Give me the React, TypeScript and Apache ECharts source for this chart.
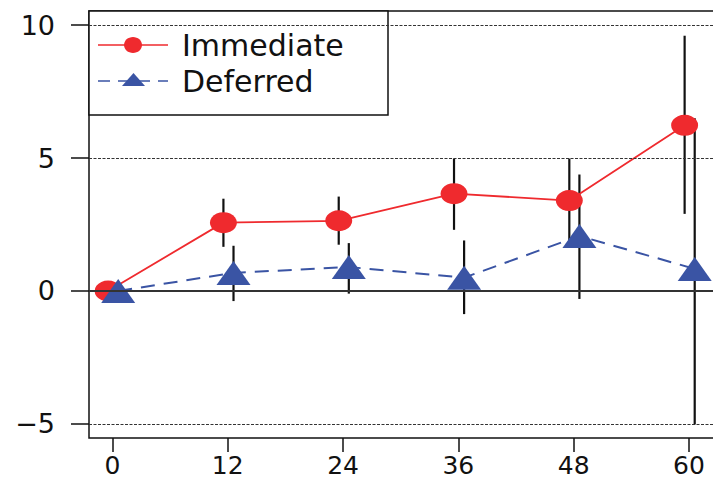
import React, { useEffect, useRef } from "react";
import * as echarts from "echarts";

const months = [0, 12, 24, 36, 48, 60];
const yTicks = [-5, 0, 5, 10];
const gridValues = [10, 5, -5];

const immediateMean = [0, 2.57, 2.64, 3.66, 3.4, 6.23];
const immediateLower = [0, 1.66, 1.74, 2.3, 1.9, 2.9];
const immediateUpper = [0, 3.47, 3.55, 4.98, 4.98, 9.6];

const deferredMean = [0, 0.68, 0.9, 0.5, 2.07, 0.83];
const deferredLower = [0, -0.38, -0.1, -0.87, -0.3, -5.02];
const deferredUpper = [0, 1.7, 1.8, 1.9, 4.38, 6.5];

const immediateOffset = -0.45;
const deferredOffset = 0.6;

const RED = "#ef2a2e";
const BLUE = "#3a54a4";
const FONT = "DejaVu Sans";

export default function App() {
  const ref = useRef<HTMLDivElement>(null);

  useEffect(() => {
    if (!ref.current) return;
    const chart = echarts.init(ref.current, undefined, { renderer: "svg" });

    const immPts = months.map((m, i) => [m + immediateOffset, immediateMean[i]]);
    const defPts = months.map((m, i) => [m + deferredOffset, deferredMean[i]]);
    const immBars = months
      .map((m, i) => [m + immediateOffset, immediateLower[i], immediateUpper[i]])
      .filter((d) => d[1] !== d[2]);
    const defBars = months
      .map((m, i) => [m + deferredOffset, deferredLower[i], deferredUpper[i]])
      .filter((d) => d[1] !== d[2]);

    const renderBar = (params: any, api: any) => {
      const x = api.value(0);
      const p1 = api.coord([x, api.value(1)]);
      const p2 = api.coord([x, api.value(2)]);
      return {
        type: "line",
        shape: { x1: p1[0], y1: p1[1], x2: p2[0], y2: p2[1] },
        style: { stroke: "#111", lineWidth: 2.2 },
      };
    };

    chart.setOption({
      animation: false,
      backgroundColor: "#ffffff",
      grid: {
        left: 89,
        top: 11,
        bottom: 44,
        right: 18,
        show: true,
        borderColor: "#111",
        borderWidth: 1.5,
        backgroundColor: "transparent",
      },
      xAxis: {
        type: "value",
        min: -2.44,
        max: 63.44,
        axisLine: { show: false, onZero: false },
        splitLine: { show: false },
        axisTick: {
          show: true,
          inside: false,
          length: 14,
          customValues: months,
          lineStyle: { color: "#111", width: 1.5 },
        },
        axisLabel: {
          customValues: months,
          margin: 17,
          fontFamily: FONT,
          fontSize: 25,
          lineHeight: 20,
          color: "#111",
        },
      },
      yAxis: {
        type: "value",
        min: -5.53,
        max: 10.53,
        axisLine: { show: false, onZero: false },
        splitLine: { show: false },
        axisTick: {
          show: true,
          inside: false,
          length: 18,
          customValues: yTicks,
          lineStyle: { color: "#111", width: 1.5 },
        },
        axisLabel: {
          customValues: yTicks,
          margin: 34,
          fontFamily: FONT,
          fontSize: 27,
          color: "#111",
          formatter: (v: number) => (v < 0 ? "\u2212" + Math.abs(v) : String(v)),
        },
      },
      series: [
        {
          type: "line",
          data: [],
          z: 1,
          silent: true,
          markLine: {
            silent: true,
            symbol: "none",
            label: { show: false },
            data: [
              ...gridValues.map((v) => ({
                yAxis: v,
                lineStyle: { color: "#333", width: 1, type: [3, 1.5] },
              })),
              { yAxis: 0, lineStyle: { color: "#333", width: 2, type: "solid" } },
            ],
          },
        },
        {
          type: "custom",
          renderItem: renderBar,
          data: immBars,
          encode: { x: 0, y: [1, 2] },
          z: 2,
          silent: true,
        },
        {
          type: "custom",
          renderItem: renderBar,
          data: defBars,
          encode: { x: 0, y: [1, 2] },
          z: 2,
          silent: true,
        },
        {
          name: "Immediate",
          type: "line",
          data: immPts,
          z: 3,
          symbol: "circle",
          symbolSize: [27, 21],
          itemStyle: { color: RED },
          lineStyle: { color: RED, width: 1.8 },
        },
        {
          name: "Deferred",
          type: "line",
          data: defPts,
          z: 4,
          symbol: "triangle",
          symbolSize: [34, 24],
          itemStyle: { color: BLUE },
          lineStyle: { color: BLUE, width: 2, type: [14, 9] },
        },
      ],
      graphic: [
        {
          type: "group",
          z: 100,
          children: [
            {
              type: "rect",
              shape: { x: 89, y: 11, width: 299, height: 104 },
              style: { fill: "#fff", stroke: "#111", lineWidth: 1.5 },
            },
            {
              type: "line",
              shape: { x1: 98, y1: 45, x2: 168, y2: 45 },
              style: { stroke: RED, lineWidth: 1.5 },
            },
            {
              type: "ellipse",
              shape: { cx: 133, cy: 45, rx: 9, ry: 8 },
              style: { fill: RED },
            },
            {
              type: "line",
              shape: { x1: 98, y1: 81, x2: 168, y2: 81 },
              style: { stroke: BLUE, lineWidth: 1.5, lineDash: [12, 8] },
            },
            {
              type: "polygon",
              shape: { points: [[122, 86], [145, 86], [133.5, 73]] },
              style: { fill: BLUE },
            },
            {
              type: "text",
              x: 182,
              y: 45,
              style: {
                text: "Immediate",
                font: `30px "${FONT}"`,
                fill: "#111",
                textVerticalAlign: "middle",
                verticalAlign: "middle",
              },
            },
            {
              type: "text",
              x: 182,
              y: 81,
              style: {
                text: "Deferred",
                font: `30px "${FONT}"`,
                fill: "#111",
                textVerticalAlign: "middle",
                verticalAlign: "middle",
              },
            },
          ],
        },
      ],
    });

    return () => chart.dispose();
  }, []);

  return (
    <div
      style={{
        position: "absolute",
        left: 0,
        top: 0,
        width: 713,
        height: 482,
        overflow: "hidden",
        background: "#fff",
      }}
    >
      <div ref={ref} style={{ width: 740, height: 482 }} />
    </div>
  );
}
